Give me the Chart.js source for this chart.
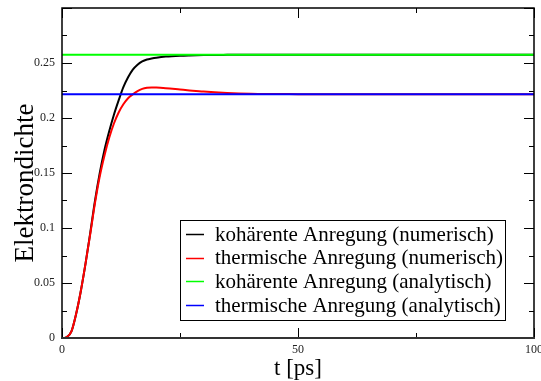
<!DOCTYPE html>
<html>
<head>
<meta charset="utf-8">
<script src="https://cdn.jsdelivr.net/npm/chart.js@4.4.1/dist/chart.umd.min.js"></script>
<style>
  html, body { margin: 0; padding: 0; background: #fff; overflow: hidden; }
  #wrap { width: 541px; height: 381px; }
</style>
</head>
<body>
<div id="wrap"><canvas id="dichteChart" width="541" height="381"></canvas></div>
<script>
// time axis of the simulation [ps]
const timePs = [0, 0.5, 1, 2, 3, 4, 5, 6, 7, 8, 9, 10, 11, 12, 13, 14, 15, 16, 17, 18, 19, 20,
  22, 25, 27, 30, 35, 40, 50, 60, 80, 100];

// numerical electron density, coherent excitation
const kohNumerisch = [0, 0, 0.0008, 0.006, 0.022, 0.043, 0.068, 0.096, 0.125, 0.150, 0.171, 0.188,
  0.203, 0.216, 0.228, 0.237, 0.244, 0.2485, 0.2515, 0.2532, 0.2541, 0.2548,
  0.2558, 0.2566, 0.2569, 0.2572, 0.2574, 0.2575, 0.2576, 0.2576, 0.2576, 0.2576];

// numerical electron density, thermal excitation
const thermNumerisch = [0, 0, 0.0008, 0.006, 0.022, 0.043, 0.068, 0.095, 0.123, 0.147, 0.166, 0.182,
  0.195, 0.205, 0.2125, 0.218, 0.2215, 0.2245, 0.2265, 0.2275, 0.2278, 0.2277,
  0.2271, 0.2259, 0.2251, 0.2240, 0.2228, 0.2221, 0.2217, 0.2216, 0.2216, 0.2216];

// analytical stationary values
const timeAnalytisch = [0, 100];
const kohAnalytisch = [0.2576, 0.2576];
const thermAnalytisch = [0.2216, 0.2216];

const xTicks = [0, 50, 100];
const xMinor = [25, 75];
const yTicks = [0, 0.05, 0.1, 0.15, 0.2, 0.25, 0.3];
const yTickLabels = ['0', '0.05', '0.1', '0.15', '0.2', '0.25', ''];
const yMinor = [0.025, 0.075, 0.125, 0.175, 0.225, 0.275];

const serif = '"Liberation Serif", "DejaVu Serif", serif';

function toPoints(xs, ys) {
  return xs.map((t, i) => ({ x: t, y: ys[i] }));
}

// frame on all four sides with inward ticks
const frameTicks = {
  id: 'frameTicks',
  afterDatasetsDraw(chart) {
    const { ctx, chartArea: a, scales: { x, y } } = chart;
    ctx.save();
    ctx.lineWidth = 1;
    ctx.strokeStyle = '#000';
    const tick = (x1, y1, x2, y2) => {
      ctx.beginPath(); ctx.moveTo(x1, y1); ctx.lineTo(x2, y2); ctx.stroke();
    };
    xTicks.forEach(v => {
      const px = Math.round(x.getPixelForValue(v)) + 0.5;
      tick(px, a.bottom, px, a.bottom - 10);
      tick(px, a.top, px, a.top + 10);
    });
    xMinor.forEach(v => {
      const px = Math.round(x.getPixelForValue(v)) + 0.5;
      tick(px, a.bottom, px, a.bottom - 5);
      tick(px, a.top, px, a.top + 5);
    });
    yTicks.forEach(v => {
      const py = Math.round(y.getPixelForValue(v)) + 0.5;
      tick(a.left, py, a.left + 10, py);
      tick(a.right, py, a.right - 10, py);
    });
    yMinor.forEach(v => {
      const py = Math.round(y.getPixelForValue(v)) + 0.5;
      tick(a.left, py, a.left + 5, py);
      tick(a.right, py, a.right - 5, py);
    });

    ctx.lineWidth = 1.5;
    ctx.strokeStyle = '#000';
    ctx.beginPath();
    ctx.moveTo(a.left, a.bottom);
    ctx.lineTo(a.left, a.top);
    ctx.lineTo(a.right, a.top);
    ctx.lineTo(a.right, a.bottom);
    ctx.stroke();
    ctx.lineWidth = 2;
    ctx.strokeStyle = '#333';
    tick(a.left - 1, a.bottom, a.right + 1, a.bottom);

    // rotated y title
    ctx.fillStyle = '#000';
    ctx.font = '27px ' + serif;
    ctx.translate(33, 183);
    ctx.rotate(-Math.PI / 2);
    ctx.textAlign = 'center';
    ctx.textBaseline = 'alphabetic';
    ctx.fillText('Elektrondichte', 0, 0);
    ctx.restore();
  }
};

// boxed legend inside the plot
const boxLegend = {
  id: 'boxLegend',
  afterDraw(chart) {
    const ctx = chart.ctx;
    const box = { left: 180, top: 220, right: 505, bottom: 320 };
    ctx.save();
    ctx.fillStyle = '#fff';
    ctx.fillRect(box.left, box.top, box.right - box.left, box.bottom - box.top);
    ctx.strokeStyle = '#000';
    ctx.lineWidth = 1;
    ctx.strokeRect(box.left + 0.5, box.top + 0.5, box.right - box.left, box.bottom - box.top);
    ctx.font = '21px ' + serif;
    ctx.textBaseline = 'middle';
    ctx.fillStyle = '#000';
    chart.data.datasets.forEach((ds, i) => {
      const yy = 234 + i * 23.7;
      ctx.strokeStyle = ds.borderColor;
      ctx.lineWidth = 1.5;
      ctx.beginPath();
      ctx.moveTo(186, Math.round(yy) + 0.5);
      ctx.lineTo(204, Math.round(yy) + 0.5);
      ctx.stroke();
      ctx.fillText(ds.label, 215, yy + 1);
    });
    ctx.restore();
  }
};

const lineStyle = { borderWidth: 2, pointRadius: 0, fill: false, cubicInterpolationMode: 'monotone' };

new Chart(document.getElementById('dichteChart'), {
  type: 'line',
  data: {
    datasets: [
      { ...lineStyle, label: 'kohärente Anregung (numerisch)', data: toPoints(timePs, kohNumerisch), borderColor: '#000000', order: 3 },
      { ...lineStyle, label: 'thermische Anregung (numerisch)', data: toPoints(timePs, thermNumerisch), borderColor: '#ff0000', order: 2 },
      { ...lineStyle, label: 'kohärente Anregung (analytisch)', data: toPoints(timeAnalytisch, kohAnalytisch), borderColor: '#00ff00', order: 1 },
      { ...lineStyle, label: 'thermische Anregung (analytisch)', data: toPoints(timeAnalytisch, thermAnalytisch), borderColor: '#0000ff', order: 0 }
    ]
  },
  options: {
    responsive: false,
    animation: false,
    layout: { padding: { left: 0, right: 7, top: 8, bottom: 0 } },
    plugins: { legend: { display: false }, tooltip: { enabled: false } },
    scales: {
      x: {
        type: 'linear',
        min: 0,
        max: 100,
        afterBuildTicks: s => { s.ticks = xTicks.map(v => ({ value: v })); },
        afterFit: s => { s.height = 43; s.paddingLeft = 0; s.paddingRight = 0; },
        ticks: { padding: 5, color: '#222', font: { family: serif, size: 12 } },
        grid: { display: true, drawOnChartArea: false, drawTicks: false },
        border: { display: false },
        title: { display: true, text: 't [ps]', color: '#000', font: { family: serif, size: 23 }, padding: { top: 0, bottom: -2 } }
      },
      y: {
        type: 'linear',
        min: 0,
        max: 0.3,
        afterBuildTicks: s => { s.ticks = yTicks.map(v => ({ value: v })); },
        afterFit: s => { s.width = 62; s.paddingTop = 0; s.paddingBottom = 0; },
        ticks: {
          padding: 7,
          color: '#222',
          font: { family: serif, size: 12 },
          callback: (v, i) => yTickLabels[i]
        },
        grid: { display: true, drawOnChartArea: false, drawTicks: false },
        border: { display: false }
      }
    }
  },
  plugins: [frameTicks, boxLegend]
});
</script>
</body>
</html>
